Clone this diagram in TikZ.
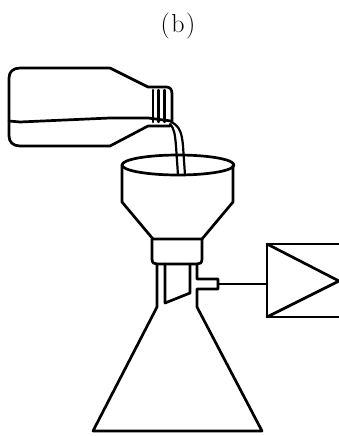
\documentclass[tikz,border=0pt]{standalone}
\usepackage{fix-cm}
\begin{document}
\begin{tikzpicture}[x=1pt,y=-1pt,
  thick line/.style={line width=2.7pt,line join=round,line cap=round},
  thin line/.style={line width=2.2pt,line join=round,line cap=round}]
\useasboundingbox (0,0) rectangle (339,436);
\node (title) at (178,26.5) {\fontsize{26}{30}\selectfont (\kern1.5pt b\kern1.5pt)};
% bottle
\draw[thick line] (172,122) -- (172,94) .. controls (172,89) and (170,87) .. (166,87) -- (148,87) -- (110,68) -- (20,68)
  .. controls (13,68) and (9,72) .. (9,78) -- (9,136) .. controls (9,142) and (13,146) .. (20,146) -- (110,146) -- (148,126) -- (170,126);
\draw[thick line] (9,121) -- (20,122) -- (110,118) -- (148,118) -- (171,121);
\foreach \x in {153,158.5,164.5}
  \draw[thin line] (\x,90) -- (\x,122);
% stream
\draw[thin line] (171,122) .. controls (180,126) and (182,134) .. (183,146) -- (185,175);
\draw[thin line] (170,124) .. controls (174,128) and (175,134) .. (176,146) -- (178,175);
% funnel
\draw[thick line] (178,165) ellipse [x radius=56,y radius=10];
\draw[thick line] (122,165) -- (122,202) -- (153,239) -- (202,239) -- (233,202) -- (233,165);
\draw[thick line] (152,239) -- (152,259) .. controls (152,263) and (154,264) .. (157,264) -- (197,264) .. controls (200,264) and (202,263) .. (202,259) -- (202,239);
% stem
\draw[thick line] (157,264) -- (157,307) -- (93,431) -- (262,431) -- (197,307) -- (197,289) -- (218,289) -- (218,279) -- (197,279) -- (197,264);
\draw[thick line] (165,264) -- (165,303) -- (190,293) -- (190,264);
% amplifier
\draw[thick line] (341,244) -- (267,244) -- (267,317) -- (341,317);
\draw[thick line] (267,244) -- (339,281) -- (267,317);
\draw[thick line] (218,284) -- (267,284);
\end{tikzpicture}
\end{document}
